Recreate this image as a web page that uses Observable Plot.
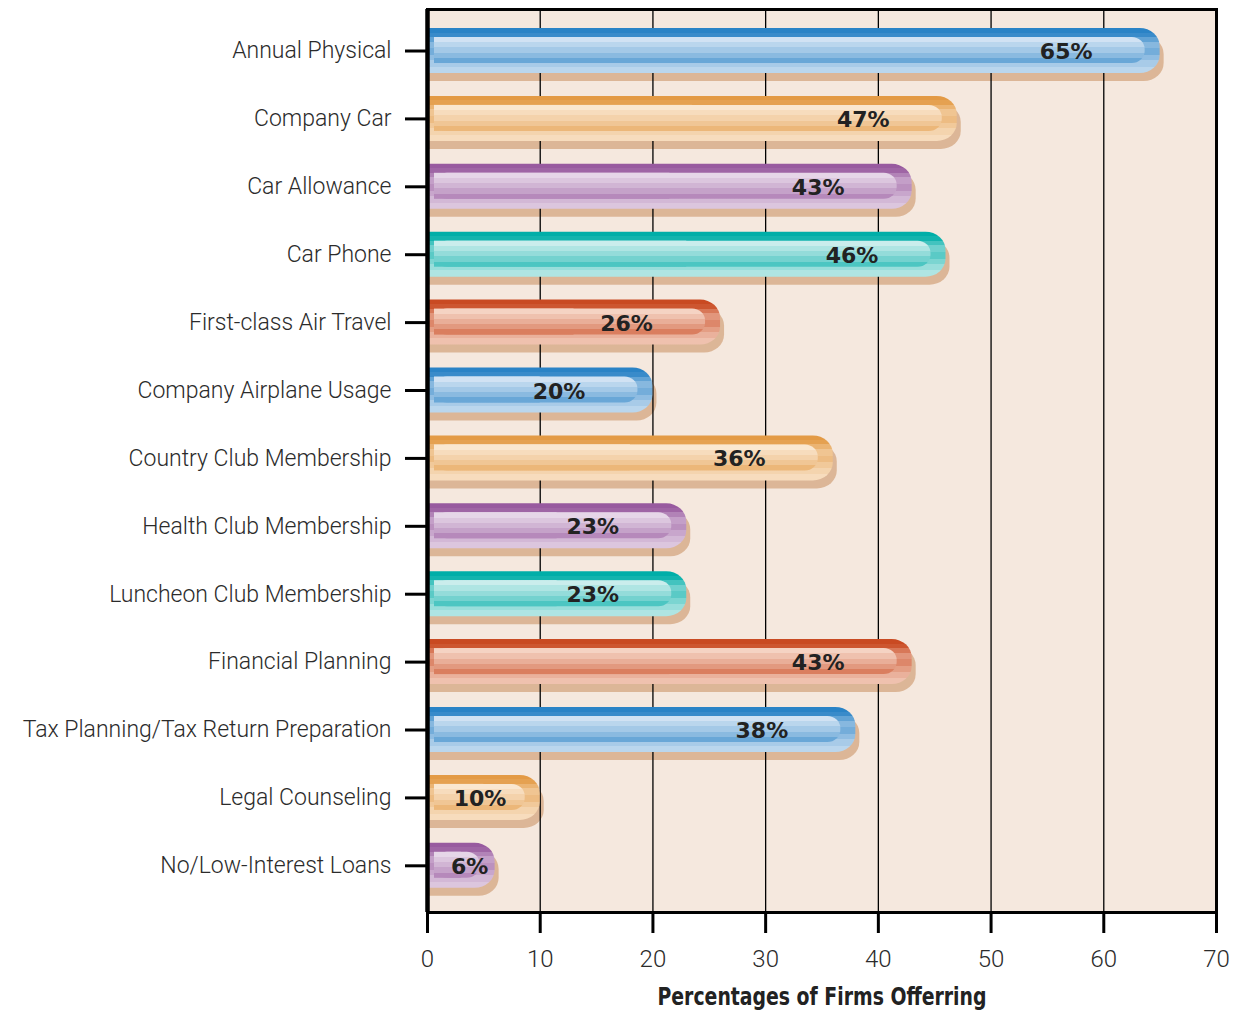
<!DOCTYPE html>
<html><head><meta charset="utf-8">
<script src="https://cdn.jsdelivr.net/npm/d3@7"></script>
<script src="https://cdn.jsdelivr.net/npm/@observablehq/plot@0.6"></script>
<style>
body{margin:0;background:#fff;}
#chart svg{display:block;}
g[aria-label="x-axis label"] text{font-family:"Liberation Sans Narrow","DejaVu Sans Condensed",Roboto,sans-serif;font-weight:bold;font-size:24px;fill:#222;}
</style>
</head><body><div id="chart"></div>
<script>
const categories = ["Annual Physical","Company Car","Car Allowance","Car Phone","First-class Air Travel","Company Airplane Usage","Country Club Membership","Health Club Membership","Luncheon Club Membership","Financial Planning","Tax Planning/Tax Return Preparation","Legal Counseling","No/Low-Interest Loans"];
const values = [65,47,43,46,26,20,36,23,23,43,38,10,6];
const barColors = ["blue","orange","purple","teal","red","blue","orange","purple","teal","red","blue","orange","purple"];
const xTicks = [0,10,20,30,40,50,60,70];
const gridTicks = [10,20,30,40,50,60];
const xLabel = "Percentages of Firms Offerring";

// styling
const palette = {
  blue:   ["#2a83c6", "#e3edf8"],
  orange: ["#e39a45", "#fcefdf"],
  purple: ["#985a9f", "#efe4f0"],
  teal:   ["#00aea8", "#e0f4f3"],
  red:    ["#c94a22", "#fae2d5"]
};
const mainStripes = [[0,0.1,0],[0.1,0.2,0.08],[0.2,0.3,0.3],[0.3,0.45,0.5],[0.45,0.6,0.4],[0.6,0.72,0.55],[0.72,0.86,0.68],[0.86,1,0.78]];
const hiStripes = [[0,0.2,0.9],[0.2,0.4,0.78],[0.4,0.6,0.66],[0.6,0.8,0.52],[0.8,1,0.34]];

const rows = categories.map((c,i)=>({category:c, value:values[i], color:barColors[i]}));

const colorMarks = Object.keys(palette).flatMap(k => {
  const sub = rows.filter(d => d.color === k);
  return [
    Plot.barX(sub, {x1:0, x2:"value", y:"category", fill:`url(#main-${k})`, rx:20, ry:18, insetLeft:-30, clip:true}),
    Plot.barX(sub, {x1:0, x2:"value", y:"category", fill:`url(#hi-${k})`, rx:13, ry:12, insetLeft:7, insetRight:15, insetTop:9, insetBottom:10}),
    Plot.barX(sub, {x1:0, x2:d=>d.value/2, y:"category", fill:`url(#hi-${k})`, insetLeft:7, insetTop:9, insetBottom:10})
  ];
});

const svg = Plot.plot({
  width:1237, height:1011,
  marginLeft:427, marginRight:21, marginTop:9, marginBottom:99,
  style:{fontFamily:"Roboto, sans-serif", fontSize:"23px", color:"#333", background:"#fff"},
  x:{domain:[0,70]},
  y:{domain:categories, paddingInner:0.337, paddingOuter:0.318, align:0.44, round:false},
  marks:[
    Plot.frame({fill:"#f5e8de"}),
    Plot.barX(rows, {x1:0, x2:"value", y:"category", fill:"#dcb697", rx:20, ry:18, insetLeft:-34, insetRight:-4, dy:8, clip:true}),
    Plot.gridX(gridTicks, {stroke:"#000", strokeOpacity:1, strokeWidth:1.3}),
    ...colorMarks,
    Plot.text(rows, {x:d=>d.value - Math.min(6,(d.value-5)*0.6), y:"category", text:d=>`${d.value}%`, textAnchor:"end", fontFamily:"DejaVu Sans, sans-serif", fontWeight:"bold", fontSize:22, fill:"#222", dy:1}),
    Plot.axisY({tickSize:22, tickPadding:14, fontSize:23, fontWeight:300, label:null, stroke:"#000", strokeWidth:3, fill:"#2b2b2b"}),
    Plot.axisX({ticks:xTicks, tickSize:21, tickPadding:16, fontSize:24, fontWeight:300, label:xLabel, labelAnchor:"center", labelOffset:92, labelArrow:"none", stroke:"#000", strokeWidth:3, fill:"#2b2b2b"}),
    Plot.frame({stroke:"#000", strokeWidth:3}),
    Plot.ruleX([0], {stroke:"#000", strokeWidth:4.5})
  ]
});

// gradient defs
const defs = d3.select(svg).insert("defs", ":first-child");
function addGrad(id, stripes, dark, light){
  const g = defs.append("linearGradient").attr("id", id).attr("x1",0).attr("y1",0).attr("x2",0).attr("y2",1);
  const mix = d3.interpolateRgb(dark, light);
  stripes.forEach(([a,b,t]) => {
    g.append("stop").attr("offset", a).attr("stop-color", mix(t));
    g.append("stop").attr("offset", b).attr("stop-color", mix(t));
  });
}
Object.entries(palette).forEach(([k,[dark,light]]) => {
  addGrad(`main-${k}`, mainStripes, dark, light);
  addGrad(`hi-${k}`, hiStripes, dark, light);
});

// condensed look for the axis title
d3.select(svg).selectAll('g[aria-label="x-axis label"] text')
  .attr("textLength", 329).attr("lengthAdjust", "spacingAndGlyphs");

document.getElementById("chart").append(svg);
</script>
</body></html>
